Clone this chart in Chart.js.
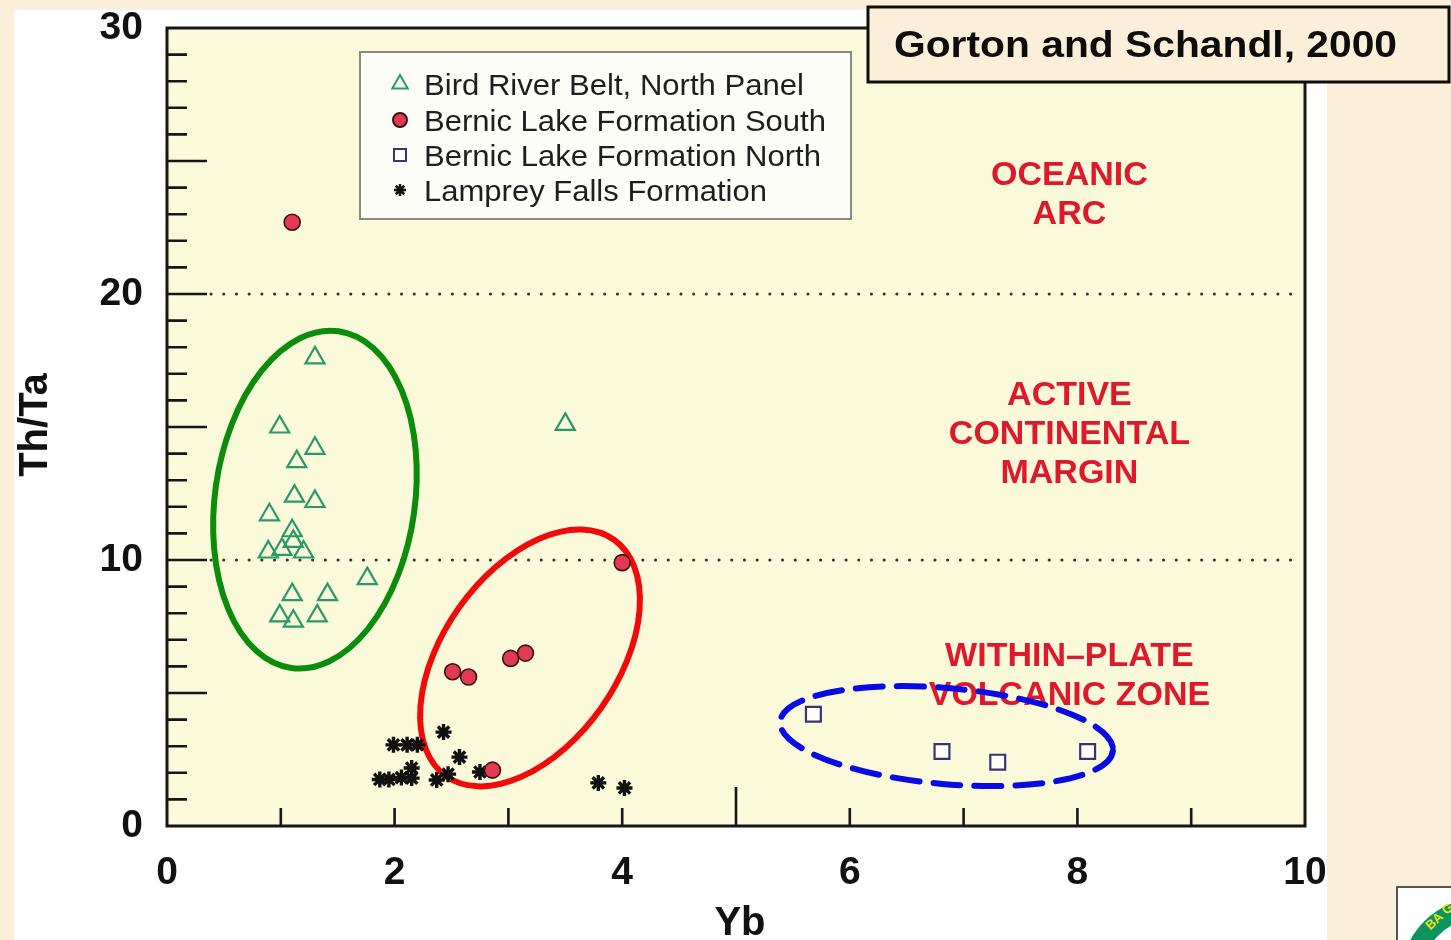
<!DOCTYPE html>
<html>
<head>
<meta charset="utf-8">
<script src="https://cdn.jsdelivr.net/npm/chart.js@4.4.1/dist/chart.umd.min.js"></script>
<style>
    html, body { margin: 0; padding: 0; background: #fbefd9; overflow: hidden; }
    #wrap { position: relative; width: 1451px; height: 940px; }
</style>
</head>
<body>
<div id="wrap"><canvas id="chart" width="1451" height="940"></canvas></div>
<script>
// ---------------------------------------------------------------------------
// DATA (Yb, Th/Ta)
// ---------------------------------------------------------------------------
const seriesNames = [
    'Bird River Belt, North Panel',
    'Bernic Lake Formation South',
    'Bernic Lake Formation North',
    'Lamprey Falls Formation'
];

const birdRiver = [
    [1.30, 17.6], [0.99, 15.0], [1.30, 14.2], [1.14, 13.7], [1.12, 12.4],
    [1.30, 12.2], [0.90, 11.7], [1.10, 11.1], [1.11, 10.7], [1.01, 10.4],
    [0.89, 10.3], [1.20, 10.3], [1.76, 9.3], [1.10, 8.7], [1.41, 8.7],
    [0.99, 7.9], [1.11, 7.7], [1.32, 7.9], [3.50, 15.1]
];

const bernicSouth = [
    [1.10, 22.7], [4.00, 9.9], [2.51, 5.8], [2.65, 5.6],
    [3.02, 6.3], [3.15, 6.5], [2.86, 2.1]
];

const bernicNorth = [
    [5.68, 4.2], [6.81, 2.8], [7.30, 2.4], [8.09, 2.8]
];

const lampreyFalls = [
    [1.87, 1.75], [1.95, 1.75], [1.99, 3.05], [2.06, 1.82], [2.11, 3.05],
    [2.15, 2.18], [2.15, 1.80], [2.20, 3.05], [2.37, 1.73], [2.43, 3.53],
    [2.47, 1.95], [2.57, 2.59], [2.75, 2.03], [3.79, 1.62], [4.02, 1.43]
];

const xTickValues = [0, 2, 4, 6, 8, 10];
const yTickValues = [0, 10, 20, 30];
const fieldBoundaries = [10, 20];

const fieldLabels = [
    { lines: ['OCEANIC', 'ARC'], x: 7.93, y: 23.7 },
    { lines: ['ACTIVE', 'CONTINENTAL', 'MARGIN'], x: 7.93, y: 14.7 },
    { lines: ['WITHIN\u2013PLATE', 'VOLCANIC ZONE'], x: 7.93, y: 5.64 }
];

// hand-drawn group outlines: centre in data units, radii in px
const groupOutlines = [
    { x: 1.30, y: 12.27, rx: 100, ry: 170, rot: 8, color: '#0b8c0b', dash: [] },
    { x: 3.19, y: 6.32, rx: 145, ry: 87, rot: -54.6, color: '#f00a0a', dash: [] },
    { x: 6.85, y: 3.38, rx: 167, ry: 48, rot: 5, color: '#0a0ae6', dash: [27, 14] }
];

const FONT = "'Liberation Sans', Arial, Helvetica, sans-serif";

const seriesStyles = [
    { pointStyle: 'triangle', radius: 11, borderWidth: 2.2, borderColor: '#2b9868', backgroundColor: 'rgba(0,0,0,0)' },
    { pointStyle: 'circle', radius: 8, borderWidth: 1.6, borderColor: '#3a1212', backgroundColor: '#e23a55' },
    { pointStyle: 'rect', radius: 10.5, borderWidth: 2.2, borderColor: '#3b3370', backgroundColor: '#ffffff' },
    { pointStyle: 'star', radius: 8, borderWidth: 3.4, borderColor: '#111111', backgroundColor: '#111111' }
];

const seriesData = [birdRiver, bernicSouth, bernicNorth, lampreyFalls];

// text squeezed/stretched horizontally to a given width (wide Helvetica look)
function fillTextWidth(ctx, text, x, y, width) {
    const w = ctx.measureText(text).width;
    ctx.save();
    ctx.translate(x, y);
    ctx.scale(width / w, 1);
    ctx.fillText(text, 0, 0);
    ctx.restore();
}

// ---------------------------------------------------------------------------
// DRAWING PLUGINS
// ---------------------------------------------------------------------------
const backdropPlugin = {
    id: 'backdrop',
    beforeDraw(chart) {
        const { ctx, chartArea: a } = chart;
        ctx.save();
        ctx.fillStyle = '#fbefd9';
        ctx.fillRect(0, 0, chart.width, chart.height);
        ctx.fillStyle = '#fefefe';
        ctx.fillRect(14, 10, 1313, chart.height - 10);
        ctx.fillStyle = '#fafadb';
        ctx.fillRect(a.left, a.top, a.right - a.left, a.bottom - a.top);
        ctx.restore();
    },
    beforeDatasetsDraw(chart) {
        const { ctx, chartArea: a, scales } = chart;
        ctx.save();

        // dotted field boundaries
        ctx.strokeStyle = '#333';
        ctx.lineWidth = 3;
        ctx.lineCap = 'round';
        ctx.setLineDash([0.1, 12.6]);
        fieldBoundaries.forEach(v => {
            const y = scales.y.getPixelForValue(v);
            ctx.beginPath();
            ctx.moveTo(a.left + 44, y);
            ctx.lineTo(a.right - 4, y);
            ctx.stroke();
        });
        ctx.setLineDash([]);

        // field names
        ctx.fillStyle = '#dc1a2c';
        ctx.font = `bold 34px ${FONT}`;
        ctx.textAlign = 'center';
        ctx.textBaseline = 'middle';
        const lh = 39;
        fieldLabels.forEach(f => {
            const cx = scales.x.getPixelForValue(f.x);
            const cy = scales.y.getPixelForValue(f.y);
            const top = cy - (f.lines.length - 1) * lh / 2;
            f.lines.forEach((t, i) => ctx.fillText(t, cx, top + i * lh));
        });

        // group outlines
        ctx.lineWidth = 6;
        groupOutlines.forEach(o => {
            ctx.strokeStyle = o.color;
            ctx.setLineDash(o.dash);
            ctx.beginPath();
            ctx.ellipse(scales.x.getPixelForValue(o.x), scales.y.getPixelForValue(o.y),
                o.rx, o.ry, o.rot * Math.PI / 180, 0, Math.PI * 2);
            ctx.stroke();
        });
        ctx.restore();
    },
    afterDraw(chart) {
        const { ctx, chartArea: a, scales } = chart;
        ctx.save();

        // frame
        ctx.strokeStyle = '#161616';
        ctx.lineWidth = 3;
        ctx.strokeRect(a.left, a.top, a.right - a.left, a.bottom - a.top);

        // inward ticks
        ctx.lineWidth = 2.6;
        ctx.beginPath();
        for (let v = 1; v < 30; v++) {
            const y = scales.y.getPixelForValue(v);
            const len = v % 5 === 0 ? 40 : 20;
            ctx.moveTo(a.left, y);
            ctx.lineTo(a.left + len, y);
        }
        for (let v = 1; v < 10; v++) {
            const x = scales.x.getPixelForValue(v);
            const len = v === 5 ? 39 : 18;
            ctx.moveTo(x, a.bottom);
            ctx.lineTo(x, a.bottom - len);
        }
        ctx.stroke();

        // axis titles
        ctx.fillStyle = '#111';
        ctx.font = `bold 40px ${FONT}`;
        ctx.textAlign = 'center';
        ctx.textBaseline = 'alphabetic';
        ctx.fillText('Yb', 740, 935);
        ctx.save();
        ctx.translate(47, 425);
        ctx.rotate(-Math.PI / 2);
        ctx.fillText('Th/Ta', 0, 0);
        ctx.restore();

        // legend
        ctx.fillStyle = '#fdfdf7';
        ctx.fillRect(360, 52, 491, 167);
        ctx.strokeStyle = '#8a8a80';
        ctx.lineWidth = 2;
        ctx.strokeRect(360, 52, 491, 167);
        const legendRows = [84, 120, 155, 190];
        const legendRadius = [9, 7, 8.5, 6];
        const legendWidths = [380, 402, 397, 343];
        ctx.font = `29px ${FONT}`;
        ctx.textAlign = 'left';
        ctx.textBaseline = 'middle';
        seriesNames.forEach((name, i) => {
            const s = seriesStyles[i];
            ctx.fillStyle = s.backgroundColor;
            ctx.strokeStyle = s.borderColor;
            ctx.lineWidth = i === 3 ? 2.5 : 2;
            Chart.helpers.drawPoint(ctx, { pointStyle: s.pointStyle, radius: legendRadius[i], borderWidth: ctx.lineWidth, rotation: 0 }, 400, legendRows[i]);
            ctx.fillStyle = '#1e1e1e';
            fillTextWidth(ctx, name, 424, legendRows[i] + 3, legendWidths[i]);
        });

        // citation box
        ctx.fillStyle = '#fbefd9';
        ctx.fillRect(868, 7, 581, 75);
        ctx.strokeStyle = '#0d0d0d';
        ctx.lineWidth = 3;
        ctx.strokeRect(868, 7, 581, 75);
        ctx.fillStyle = '#0d0d0d';
        ctx.font = `bold 37px ${FONT}`;
        fillTextWidth(ctx, 'Gorton and Schandl, 2000', 894, 47, 503);

        // corner logo (cut off by the page edge)
        ctx.fillStyle = '#ffffff';
        ctx.fillRect(1397, 887, 60, 60);
        ctx.strokeStyle = '#222';
        ctx.lineWidth = 1.5;
        ctx.strokeRect(1397, 887, 60, 60);
        ctx.beginPath();
        ctx.rect(1398, 888, 60, 60);
        ctx.clip();
        ctx.strokeStyle = '#0c9460';
        ctx.lineWidth = 20;
        ctx.beginPath();
        ctx.arc(1478, 975, 66, 0, Math.PI * 2);
        ctx.stroke();
        ctx.fillStyle = '#f4e21a';
        ctx.font = `bold 13px ${FONT}`;
        ctx.save();
        ctx.translate(1428, 928);
        ctx.rotate(-0.75);
        ctx.fillText('BA G', 0, 0);
        ctx.restore();
        ctx.restore();
    }
};

// ---------------------------------------------------------------------------
// CHART
// ---------------------------------------------------------------------------
const tickFont = { family: FONT, size: 39, weight: 'bold' };

new Chart(document.getElementById('chart'), {
    type: 'scatter',
    data: {
        datasets: seriesData.map((pts, i) => ({
            label: seriesNames[i],
            data: pts.map(([x, y]) => ({ x, y })),
            pointStyle: seriesStyles[i].pointStyle,
            pointRadius: seriesStyles[i].radius,
            pointBorderWidth: seriesStyles[i].borderWidth,
            pointBorderColor: seriesStyles[i].borderColor,
            pointBackgroundColor: seriesStyles[i].backgroundColor
        }))
    },
    options: {
        responsive: false,
        animation: false,
        devicePixelRatio: 1,
        layout: { padding: { top: 28, right: 146, left: 0, bottom: 0 } },
        plugins: {
            legend: { display: false },
            tooltip: { enabled: false }
        },
        scales: {
            x: {
                type: 'linear',
                min: 0,
                max: 10,
                afterBuildTicks: s => { s.ticks = xTickValues.map(v => ({ value: v })); },
                afterFit: s => { s.height = 114; s.paddingLeft = 0; s.paddingRight = 0; },
                ticks: { font: tickFont, color: '#111', padding: 24, maxRotation: 0, autoSkip: false },
                grid: { display: false, drawTicks: false },
                border: { display: false }
            },
            y: {
                type: 'linear',
                min: 0,
                max: 30,
                afterBuildTicks: s => { s.ticks = yTickValues.map(v => ({ value: v })); },
                afterFit: s => { s.width = 167; s.paddingTop = 0; s.paddingBottom = 0; },
                ticks: { font: tickFont, color: '#111', padding: 24, autoSkip: false },
                grid: { display: false, drawTicks: false },
                border: { display: false }
            }
        }
    },
    plugins: [backdropPlugin]
});
</script>
</body>
</html>
